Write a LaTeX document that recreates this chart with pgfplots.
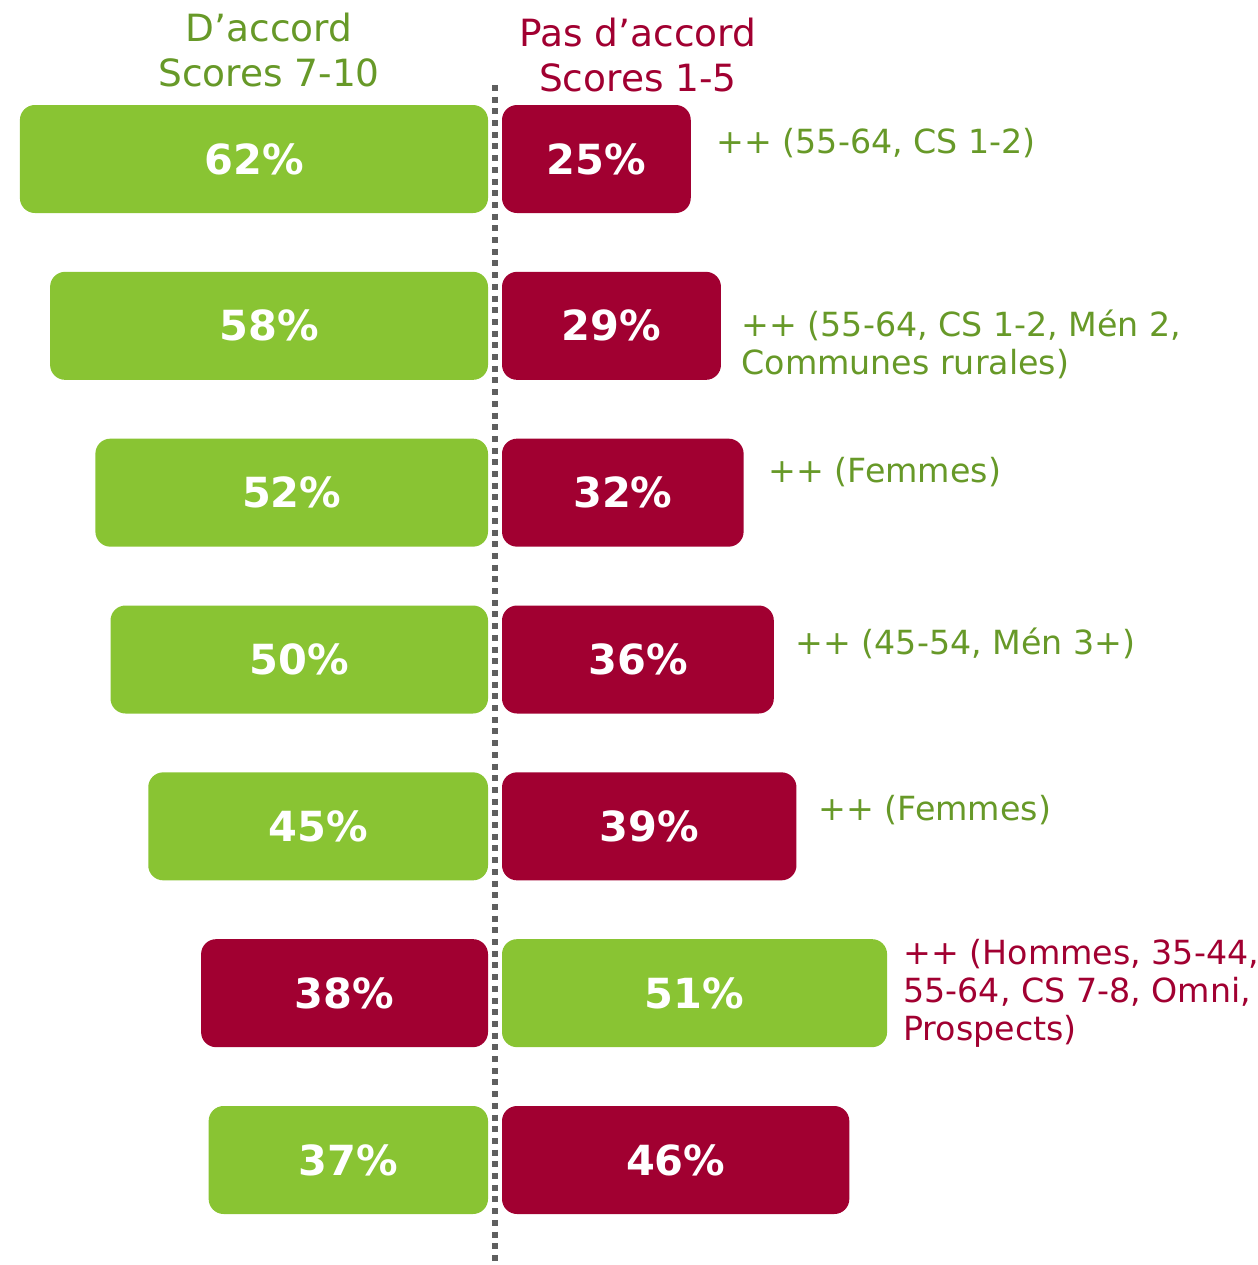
\documentclass[border=0pt]{standalone}
\usepackage{pgfplots}
\pgfplotsset{compat=1.18}
\usepackage{pgfplotstable}
\usepackage{fontspec}
\setmainfont{DejaVu Sans}

\definecolor{barGreen}{HTML}{89C433}
\definecolor{barRed}{HTML}{A10031}
\definecolor{txtGreen}{HTML}{679928}
\definecolor{txtRed}{HTML}{A10031}
\definecolor{dotGrey}{HTML}{5F5F5F}

% row 0 = top bar pair
\pgfplotstableread{
row agree disagree
0 62 25
1 58 29
2 52 32
3 50 36
4 45 39
5 38 51
6 37 46
}\scores

\pgfplotsset{
  halfaxis/.style={
    scale only axis, width=503.2pt, height=506pt,
    at={(0,0)}, anchor=south west,
    hide axis, clip=false,
    y dir=reverse, ymin=-0.9531, ymax=6.6294,
  },
  pbar/.style={xbar, bar width=43.2pt, bar shift=0pt, draw=none,
    rounded corners=6pt, fill=#1},
  plabel/.style={draw=none, mark=none, point meta=explicit,
    /pgf/number format/assume math mode=true,
    nodes near coords={\pgfmathprintnumber{\pgfplotspointmeta}\%},
    every node near coord/.append style={anchor=center, text=white,
      font=\fontsize{16.6}{19}\selectfont\bfseries}},
}

\begin{document}
\begin{tikzpicture}
% left half: bars grow to the left from x=0
\begin{axis}[halfaxis, xmin=-64.636, xmax=101.987]
  \addplot[pbar=barGreen, y filter/.expression={y==5 ? nan : y}]
    table[x expr=-\thisrow{agree}, y=row]{\scores};
  \addplot[pbar=barRed, y filter/.expression={y==5 ? y : nan}]
    table[x expr=-\thisrow{agree}, y=row]{\scores};
  \addplot[plabel] table[x expr=-\thisrow{agree}/2, y=row, meta=agree]{\scores};
\end{axis}
% right half
\begin{axis}[halfaxis, xmin=-66.49, xmax=100.13]
  \addplot[pbar=barRed, y filter/.expression={y==5 ? nan : y}]
    table[x=disagree, y=row]{\scores};
  \addplot[pbar=barGreen, y filter/.expression={y==5 ? y : nan}]
    table[x=disagree, y=row]{\scores};
  \addplot[plabel] table[x expr=\thisrow{disagree}/2, y=row, meta=disagree]{\scores};
\end{axis}

\begin{scope}[x=0.4pt, y=-0.4pt, shift={(0,506pt)}]
  \draw[dotGrey, line width=2.4pt, dash pattern=on 2.4pt off 2.28pt] (495,85) -- (495,1265);

  \node[txtGreen, align=center, font=\fontsize{15}{18}\selectfont] at (269,50)
    {D’accord\\Scores 7-10};
  \node[txtRed, align=center, font=\fontsize{15}{18}\selectfont] at (638,55)
    {Pas d’accord\\Scores 1-5};

  \begin{scope}[every node/.style={anchor=west, align=left, inner sep=0pt,
      font=\fontsize{13.3}{15.2}\selectfont}]
    \node[txtGreen] at (716,143) {++ (55-64, CS 1-2)};
    \node[txtGreen] at (741,344) {++ (55-64, CS 1-2, Mén 2,\\Communes rurales)};
    \node[txtGreen] at (768,472) {++ (Femmes)};
    \node[txtGreen] at (795,643) {++ (45-54, Mén 3+)};
    \node[txtGreen] at (818,810) {++ (Femmes)};
    \node[txtRed] at (903,993) {++ (Hommes, 35-44,\\55-64, CS 7-8, Omni,\\Prospects)};
  \end{scope}
\end{scope}

\pgfresetboundingbox
\path[use as bounding box] (0,0) rectangle (503.2pt,506pt);
\end{tikzpicture}
\end{document}
